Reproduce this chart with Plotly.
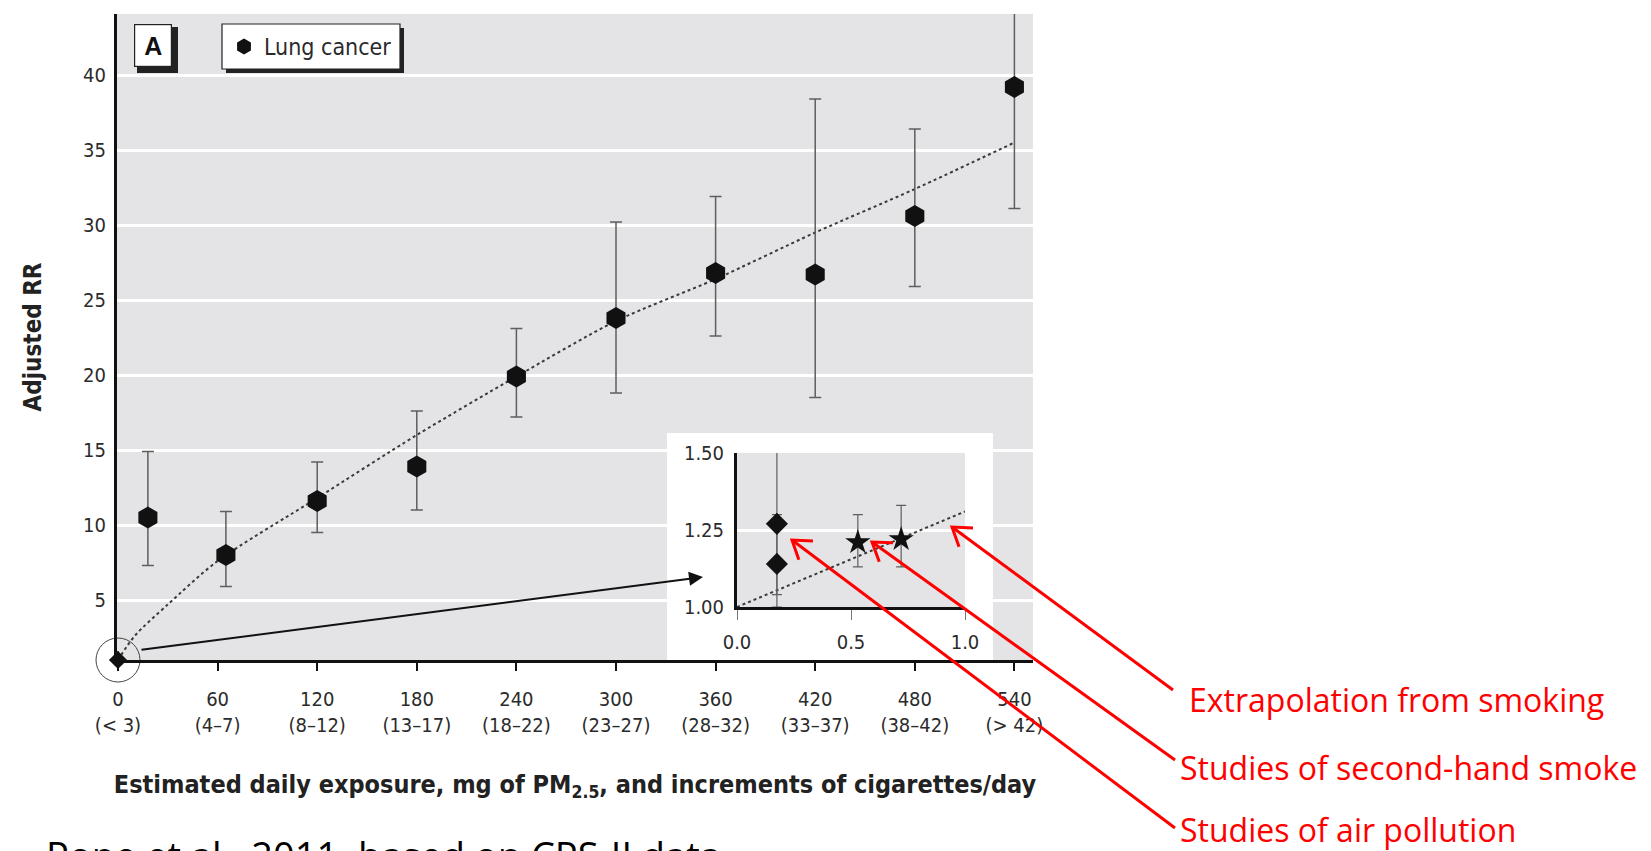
import math
import plotly.graph_objects as go

# ---- data -------------------------------------------------------------
# Lung cancer: adjusted RR by estimated daily PM2.5 dose (mg)
exposure_mg = [18, 65, 120, 180, 240, 300, 360, 420, 480, 540]
rr = [10.5, 8.0, 11.6, 13.9, 19.9, 23.8, 26.8, 26.7, 30.6, 39.2]
rr_low = [7.3, 5.9, 9.5, 11.0, 17.2, 18.8, 22.6, 18.5, 25.9, 31.1]
rr_high = [14.9, 10.9, 14.2, 17.6, 23.1, 30.2, 31.9, 38.4, 36.4, 48.5]

# reference (non-smoking) point
ref_x = [0]
ref_rr = [1.0]

# fitted exposure-response curve
curve_x = [0, 10, 30, 60, 120, 180, 240, 300, 360, 420, 480, 540]
curve_rr = [1.0, 2.6, 4.7, 7.6, 11.8, 16.0, 19.9, 23.6, 26.4, 29.5, 32.4, 35.5]

tick_vals = [0, 60, 120, 180, 240, 300, 360, 420, 480, 540]
tick_cigs = ["(< 3)", "(4–7)", "(8–12)", "(13–17)", "(18–22)", "(23–27)",
             "(28–32)", "(33–37)", "(38–42)", "(> 42)"]
y_ticks = [5, 10, 15, 20, 25, 30, 35, 40]

# low-dose inset
air_x = [0.175, 0.175]
air_rr = [1.27, 1.14]
air_low = [1.04, 1.00]
air_high = [1.56, 1.30]

shs_x = [0.53, 0.72]
shs_rr = [1.21, 1.22]
shs_low = [1.13, 1.13]
shs_high = [1.30, 1.33]

extrap_x = [0.0, 1.0]
extrap_rr = [1.0, 1.31]

inset_xticks = [0.0, 0.5, 1.0]
inset_yticks = [1.0, 1.25, 1.5]

labels = ["Extrapolation from smoking", "Studies of second-hand smoke", "Studies of air pollution"]

# ---- styling ----------------------------------------------------------
W, H = 1651, 851
L, R, T, B = 117, 1033, 14, 660          # main plot frame in pixels
TICK_FONT = "Noto Sans ExtraCondensed, DejaVu Sans Condensed, sans-serif"
LABEL_FONT = "Open Sans, Noto Sans, sans-serif"
BG = "#e4e4e6"
INK = "#2b2b2b"


def px(x):
    return (x - L) / (R - L)


def py(y):
    return (B - y) / (B - T)


def bars(vals, lo, hi):
    return [h - v for v, h in zip(vals, hi)], [v - l for v, l in zip(vals, lo)]


fig = go.Figure()

# fitted curve
fig.add_trace(go.Scatter(
    x=curve_x, y=curve_rr, mode="lines",
    line=dict(color="#3a3a3a", width=2, dash="dot", shape="spline", smoothing=0.8),
    showlegend=False, hoverinfo="skip"))

# lung cancer estimates
up, dn = bars(rr, rr_low, rr_high)
fig.add_trace(go.Scatter(
    x=exposure_mg, y=rr, mode="markers", name="Lung cancer",
    marker=dict(symbol="hexagon", size=22, color="#111111"),
    error_y=dict(type="data", symmetric=False, array=up, arrayminus=dn,
                 color="#5e5e5e", thickness=1.5, width=6)))

# reference point with its highlight ring
fig.add_trace(go.Scatter(
    x=ref_x, y=ref_rr, mode="markers", cliponaxis=False, showlegend=False,
    marker=dict(symbol="diamond", size=14, color="#111111"),
    error_y=dict(type="constant", value=0.6, color="#333", thickness=1.5, width=0)))
fig.add_trace(go.Scatter(
    x=ref_x, y=ref_rr, mode="markers", cliponaxis=False, showlegend=False,
    marker=dict(symbol="circle-open", size=44, color="#444", line=dict(width=1, color="#444"))))

# inset: linear extrapolation and low-dose studies
fig.add_trace(go.Scatter(
    x=extrap_x, y=extrap_rr, mode="lines", xaxis="x2", yaxis="y2",
    line=dict(color="#3a3a3a", width=2, dash="dot"), showlegend=False))
up, dn = bars(air_rr, air_low, air_high)
fig.add_trace(go.Scatter(
    x=air_x, y=air_rr, mode="markers", xaxis="x2", yaxis="y2", showlegend=False,
    marker=dict(symbol="diamond", size=17, color="#111111"),
    error_y=dict(type="data", symmetric=False, array=up, arrayminus=dn,
                 color="#5e5e5e", thickness=1.2, width=5)))
up, dn = bars(shs_rr, shs_low, shs_high)
fig.add_trace(go.Scatter(
    x=shs_x, y=shs_rr, mode="markers", xaxis="x2", yaxis="y2", showlegend=False,
    marker=dict(symbol="star", size=19, color="#111111"),
    error_y=dict(type="data", symmetric=False, array=up, arrayminus=dn,
                 color="#5e5e5e", thickness=1.2, width=5)))

# ---- decorations ------------------------------------------------------
shapes = [
    # white panel behind the inset
    dict(type="rect", xref="paper", yref="paper", layer="below",
         x0=px(667), x1=px(993), y0=py(660), y1=py(433),
         fillcolor="white", line=dict(width=0)),
    # drop shadows for the panel letter and the legend
    dict(type="rect", xref="paper", yref="paper", x0=px(137), x1=px(178), y0=py(73), y1=py(27),
         fillcolor="#222", line=dict(width=0)),
    dict(type="rect", xref="paper", yref="paper", x0=px(226), x1=px(404), y0=py(73), y1=py(28),
         fillcolor="#222", line=dict(width=0)),
    dict(type="rect", xref="paper", yref="paper", x0=px(222), x1=px(400), y0=py(69), y1=py(24),
         fillcolor="white", line=dict(width=1.2, color="#222")),
]

# red callout arrows: (tip, tail) in pixels
callouts = [((952, 527), (1173, 690)),
            ((872, 542), (1175, 760)),
            ((792, 540), (1175, 828))]
label_y = [699, 767, 829]
label_x = [1187, 1178, 1178]
for tip, tail in callouts:
    shapes.append(dict(type="line", xref="paper", yref="paper",
                       x0=px(tail[0]), y0=py(tail[1]), x1=px(tip[0]), y1=py(tip[1]),
                       line=dict(color="#ff0000", width=3)))
    ang = math.atan2(tail[1] - tip[1], tail[0] - tip[0])
    arm, spread = 21, math.radians(34)
    a = (tip[0] + arm * math.cos(ang + spread), tip[1] + arm * math.sin(ang + spread))
    b = (tip[0] + arm * math.cos(ang - spread), tip[1] + arm * math.sin(ang - spread))
    shapes.append(dict(type="path", xref="paper", yref="paper",
                       path=f"M {px(a[0])},{py(a[1])} L {px(tip[0])},{py(tip[1])} L {px(b[0])},{py(b[1])}",
                       line=dict(color="#ff0000", width=3)))

annotations = [
    # panel letter
    dict(text="<b>A</b>", x=px(153), y=py(45.5), xref="paper", yref="paper",
         xanchor="center", yanchor="middle", showarrow=False,
         width=36, height=41, bgcolor="white", bordercolor="#222", borderwidth=1.2, borderpad=0,
         font=dict(family="Liberation Sans, Arial, sans-serif", size=25, color="#111")),
    # arrow from the reference point to the inset
    dict(text="", x=px(703), y=py(577), xref="paper", yref="paper", showarrow=True,
         ax=140 - 703, ay=650 - 577, axref="pixel", ayref="pixel",
         arrowhead=2, arrowsize=1.4, arrowwidth=2, arrowcolor="#111"),
    dict(text="Pope et al., 2011, based on CPS-II data", x=px(44), y=py(827),
         xref="paper", yref="paper", xanchor="left", yanchor="top", showarrow=False,
         font=dict(family=LABEL_FONT, size=38, color="#000")),
]
for text, lx, ly in zip(labels, label_x, label_y):
    annotations.append(dict(text=text, x=px(lx), y=py(ly), xref="paper", yref="paper",
                            xanchor="left", yanchor="middle", showarrow=False,
                            font=dict(family=LABEL_FONT, size=32, color="#ff0000")))

fig.update_layout(
    width=W, height=H,
    margin=dict(l=L, r=W - R, t=T, b=H - B, pad=0),
    paper_bgcolor="white", plot_bgcolor=BG,
    font=dict(family=TICK_FONT, color=INK),
    showlegend=True,
    legend=dict(x=px(224), y=py(46.5), xanchor="left", yanchor="middle",
                bgcolor="rgba(0,0,0,0)", borderwidth=0,
                font=dict(family=TICK_FONT, size=23, color=INK)),
    xaxis=dict(range=[-0.6, 551.2], tickvals=tick_vals, automargin=False,
               ticktext=[f"{v}<br>{c}" for v, c in zip(tick_vals, tick_cigs)],
               ticks="outside", ticklen=8, tickwidth=2, tickcolor="#111",
               ticklabelstandoff=11,
               showline=True, linecolor="#111", linewidth=3, showgrid=False, zeroline=False,
               tickfont=dict(family=TICK_FONT, size=20, color=INK),
               title=dict(text="<b>Estimated daily exposure, mg of PM<sub>2.5</sub>, and increments of cigarettes/day</b>",
                          font=dict(family=TICK_FONT, size=25, color="#222"), standoff=40)),
    yaxis=dict(range=[1, 44.07], tickvals=y_ticks, ticks="", ticklabelstandoff=4, automargin=False,
               showline=True, linecolor="#111", linewidth=3,
               showgrid=True, gridcolor="white", gridwidth=3, zeroline=False,
               tickfont=dict(family=TICK_FONT, size=20, color=INK),
               title=dict(text="<b>Adjusted RR</b>",
                          font=dict(family=TICK_FONT, size=24, color="#222"), standoff=35)),
    xaxis2=dict(domain=[px(737), px(965)], anchor="y2", range=[0, 1.0], automargin=False,
                tickvals=inset_xticks, ticktext=["0.0", "0.5", "1.0"],
                ticks="outside", ticklen=10, tickwidth=1, tickcolor="#777",
                ticklabelstandoff=5,
                showline=True, linecolor="#111", linewidth=3, showgrid=False, zeroline=False,
                tickfont=dict(family=TICK_FONT, size=20, color=INK)),
    yaxis2=dict(domain=[py(607), py(453)], anchor="x2", range=[1.0, 1.5], automargin=False,
                tickvals=inset_yticks, ticktext=["1.00", "1.25", "1.50"], ticks="",
                ticklabelstandoff=6,
                showline=True, linecolor="#111", linewidth=3,
                showgrid=True, gridcolor="white", gridwidth=3, zeroline=False,
                tickfont=dict(family=TICK_FONT, size=20, color=INK)),
    shapes=shapes,
    annotations=annotations,
)

fig.write_html("out.html")
